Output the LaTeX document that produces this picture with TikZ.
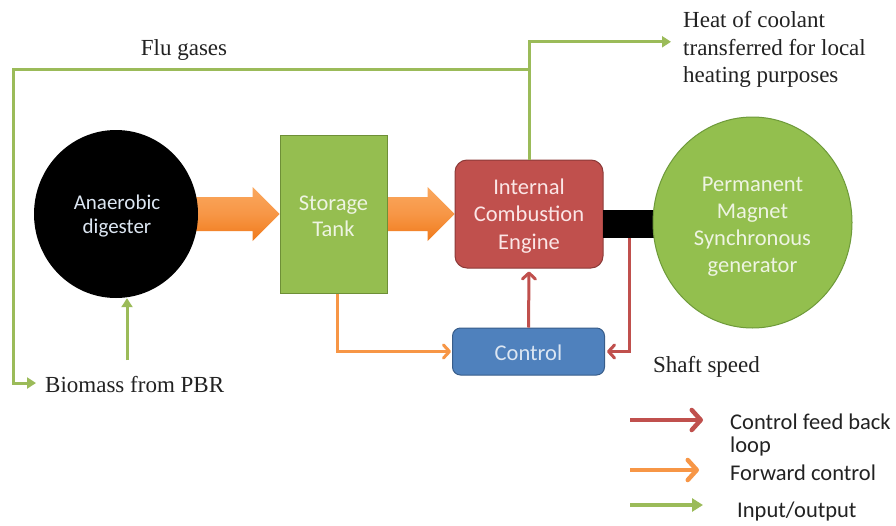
\documentclass[tikz,border=0pt]{standalone}
\usepackage{fontspec}
\setmainfont{Liberation Serif}
\newfontfamily\calfont{Carlito}
\usetikzlibrary{arrows.meta,calc,shapes.geometric,backgrounds}

\pgfdeclarelayer{paper}
\pgfsetlayers{paper,background,main}

\definecolor{txt}{HTML}{222222}
\definecolor{cred}{HTML}{C0504D}
\definecolor{credd}{HTML}{8C3A38}
\definecolor{corange}{HTML}{F79646}
\definecolor{cgreen}{HTML}{9BBB59}
\definecolor{tankfill}{HTML}{95BE50}
\definecolor{tankdraw}{HTML}{6E8F37}
\definecolor{genfill}{HTML}{93BF4E}
\definecolor{gendraw}{HTML}{6E9A3A}
\definecolor{ctrlfill}{HTML}{4F81BD}
\definecolor{ctrldraw}{HTML}{385D8A}
\definecolor{paleblue}{HTML}{DCE6F2}
\definecolor{palegreen}{HTML}{EEF4E2}
\definecolor{palered}{HTML}{FBE6E6}
\definecolor{fattop}{HTML}{FAA85E}
\definecolor{fatbot}{HTML}{F07A1A}

% broad block arrow from #1 to the tip #2 (both at the same height)
\newcommand\fatarrow[2]{%
  \shade[top color=fattop, bottom color=fatbot, middle color=corange]
    ($(#1)+(0,-17)$) -- ($(#2)+(-27,-17)$) -- ($(#2)+(-27,-27)$) -- (#2)
    -- ($(#2)+(-27,27)$) -- ($(#2)+(-27,17)$) -- ($(#1)+(0,17)$) -- cycle;}

\begin{document}
\begin{tikzpicture}[x=1pt,y=-1pt,
  sans/.style={font=\calfont\fontsize{22.5}{27}\selectfont, align=center, inner sep=0pt},
  serif/.style={font=\fontsize{23}{27.5}\selectfont, text=txt, inner sep=0pt},
  legtext/.style={font=\calfont\fontsize{22.5}{27}\selectfont, text=txt, inner sep=0pt, anchor=base west},
  redline/.style={draw=cred, line width=3pt, -{Straight Barb[length=6pt,width=13pt,round]}},
  orangeline/.style={draw=corange, line width=3pt, -{Straight Barb[length=6pt,width=13pt,round]}},
  greenline/.style={draw=cgreen, line width=3pt},
  greenhead/.style={-{Triangle[length=9pt,width=11pt]}},
  legred/.style={draw=cred, line width=4.5pt, -{Straight Barb[length=9pt,width=20pt,round]}},
  legorange/.style={draw=corange, line width=4.5pt, -{Straight Barb[length=9pt,width=20pt,round]}},
  leggreen/.style={draw=cgreen, line width=4pt, -{Triangle[length=11pt,width=13pt]}}
]
\useasboundingbox (0,0) rectangle (896,525);
\begin{pgfonlayer}{paper}
  \fill[white] (0,0) rectangle (896,525);
\end{pgfonlayer}

% main blocks
\node[ellipse, fill=black, minimum width=164pt, minimum height=168pt, inner sep=0pt] (dig) at (116,214) {};
\node[sans, text=paleblue, font=\calfont\fontsize{21}{24.5}\selectfont] (digt) at (117,216) {Anaerobic\\digester};

\node[rectangle, fill=tankfill, draw=tankdraw, line width=1pt, minimum width=107pt, minimum height=158pt] (tank) at (333.5,214) {};
\node[sans, text=palegreen, font=\calfont\fontsize{22.5}{26}\selectfont] (tankt) at (333.5,216) {Storage\\Tank};

\node[rectangle, rounded corners=12pt, fill=cred, draw=credd, line width=1pt, minimum width=148pt, minimum height=108pt] (ice) at (529,214) {};
\node[sans, text=palered, font=\calfont\fontsize{22.5}{27.5}\selectfont] (icet) at (529,216) {Internal\\Combustion\\Engine};

\node[rectangle, fill=black, minimum width=52pt, minimum height=28pt, inner sep=0pt] (shaft) at (629,224) {};

\node[ellipse, fill=genfill, draw=gendraw, line width=1pt, minimum width=199pt, minimum height=211pt, inner sep=0pt] (gen) at (752.5,222.5) {};
\node[sans, text=palegreen] (gent) at (752.5,227) {Permanent\\Magnet\\Synchronous\\generator};

\node[rectangle, rounded corners=8pt, fill=ctrlfill, draw=ctrldraw, line width=1pt, minimum width=152pt, minimum height=47pt] (ctrl) at (528.5,351.5) {};
\node[sans, text=paleblue] (ctrlt) at (528.5,353) {Control};

% broad forward arrows, laid under the blocks
\begin{scope}[on background layer]
  \coordinate (f1s) at ([xshift=-4pt]dig.east);
  \fatarrow{f1s}{tank.west}
  \fatarrow{tank.east}{ice.west}
\end{scope}

% labels
\node[serif, anchor=base] (flu) at (184,55) {Flu gases};
\node[serif, anchor=north west, align=left] (heat) at (683,11.5) {Heat of coolant\\transferred for local\\heating purposes};
\node[serif, anchor=base west] (bio) at (45,392) {Biomass from PBR};
\node[serif, anchor=base west] (speed) at (653,372) {Shaft speed};

% control loop
\draw[redline] (ctrl.north) -- ([yshift=-3pt]ice.south);
\draw[redline] (shaft.south) |- ([xshift=2pt]ctrl.east);
\draw[orangeline] ([xshift=3.5pt]tank.south) |- ([xshift=-1pt]ctrl.west);

% gas and heat lines
\coordinate (fluL) at (13,69);
\coordinate (bioup) at (127,360);
\draw[greenline, greenhead] (ice.north) |- ([xshift=-12pt,yshift=8pt]heat.west);
\draw[greenline, greenhead] (ice.north |- fluL) -- (fluL) |- ([xshift=-9pt,yshift=1pt]bio.west);
\draw[greenline, greenhead] (bioup) -- (bioup |- dig.south);

% legend
\coordinate (l1a) at (630,420); \coordinate (l1b) at (703,420);
\coordinate (l2a) at (630,470); \coordinate (l2b) at (699,470);
\coordinate (l3a) at (630,505); \coordinate (l3b) at (703,505);
\draw[legred] (l1a) -- (l1b);
\draw[legorange] (l2a) -- (l2b);
\draw[leggreen] (l3a) -- (l3b);
\node[legtext] (lg1) at (730,429) {Control feed back};
\node[legtext] (lg1b) at (730,452) {loop};
\node[legtext] (lg2) at (730,480) {Forward control};
\node[legtext] (lg3) at (737,517) {Input/output};
\end{tikzpicture}
\end{document}
